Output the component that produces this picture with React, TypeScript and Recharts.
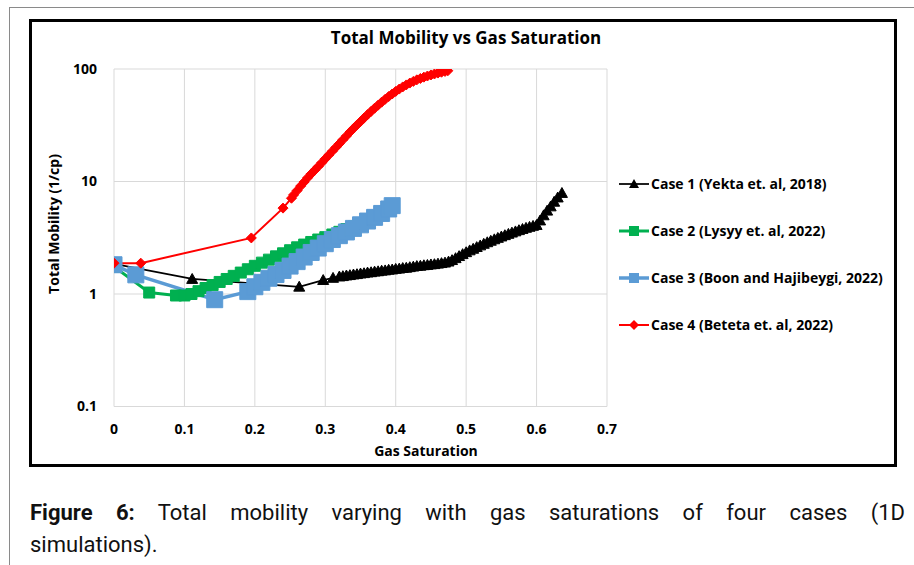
import { LineChart, Line, XAxis, YAxis, CartesianGrid } from 'recharts';

// gas saturation (x) vs total mobility in 1/cp (y)
const case1 = [
  { sg: 0, mob: 1.85 }, { sg: 0.111, mob: 1.36 }, { sg: 0.263, mob: 1.16 }, { sg: 0.297, mob: 1.33 },
  { sg: 0.311, mob: 1.39 }, { sg: 0.32, mob: 1.43 }, { sg: 0.325, mob: 1.44 }, { sg: 0.33, mob: 1.46 },
  { sg: 0.335, mob: 1.47 }, { sg: 0.34, mob: 1.49 }, { sg: 0.345, mob: 1.5 }, { sg: 0.35, mob: 1.52 },
  { sg: 0.355, mob: 1.53 }, { sg: 0.36, mob: 1.55 }, { sg: 0.365, mob: 1.56 }, { sg: 0.37, mob: 1.58 },
  { sg: 0.375, mob: 1.59 }, { sg: 0.38, mob: 1.61 }, { sg: 0.385, mob: 1.62 }, { sg: 0.39, mob: 1.64 },
  { sg: 0.395, mob: 1.65 }, { sg: 0.4, mob: 1.67 }, { sg: 0.405, mob: 1.68 }, { sg: 0.41, mob: 1.7 },
  { sg: 0.415, mob: 1.71 }, { sg: 0.42, mob: 1.73 }, { sg: 0.425, mob: 1.75 }, { sg: 0.43, mob: 1.77 },
  { sg: 0.435, mob: 1.78 }, { sg: 0.44, mob: 1.8 }, { sg: 0.445, mob: 1.81 }, { sg: 0.45, mob: 1.83 },
  { sg: 0.455, mob: 1.84 }, { sg: 0.46, mob: 1.86 }, { sg: 0.465, mob: 1.88 }, { sg: 0.47, mob: 1.9 },
  { sg: 0.475, mob: 1.94 }, { sg: 0.48, mob: 2.0 }, { sg: 0.485, mob: 2.08 }, { sg: 0.49, mob: 2.17 },
  { sg: 0.495, mob: 2.26 }, { sg: 0.5, mob: 2.35 }, { sg: 0.505, mob: 2.44 }, { sg: 0.51, mob: 2.52 },
  { sg: 0.515, mob: 2.61 }, { sg: 0.52, mob: 2.7 }, { sg: 0.525, mob: 2.79 }, { sg: 0.53, mob: 2.88 },
  { sg: 0.535, mob: 2.97 }, { sg: 0.54, mob: 3.06 }, { sg: 0.545, mob: 3.15 }, { sg: 0.55, mob: 3.24 },
  { sg: 0.555, mob: 3.33 }, { sg: 0.56, mob: 3.42 }, { sg: 0.565, mob: 3.51 }, { sg: 0.57, mob: 3.6 },
  { sg: 0.575, mob: 3.69 }, { sg: 0.58, mob: 3.78 }, { sg: 0.585, mob: 3.87 }, { sg: 0.59, mob: 3.95 },
  { sg: 0.595, mob: 4.03 }, { sg: 0.6, mob: 4.1 }, { sg: 0.605, mob: 4.5 }, { sg: 0.61, mob: 5.0 },
  { sg: 0.615, mob: 5.5 }, { sg: 0.62, mob: 6.0 }, { sg: 0.625, mob: 6.6 }, { sg: 0.63, mob: 7.2 },
  { sg: 0.636, mob: 7.9 },
];

const case2 = [
  { sg: 0, mob: 1.75 }, { sg: 0.05, mob: 1.03 }, { sg: 0.088, mob: 0.97 }, { sg: 0.1, mob: 0.97 },
  { sg: 0.11, mob: 1.0 }, { sg: 0.12, mob: 1.06 }, { sg: 0.13, mob: 1.13 }, { sg: 0.14, mob: 1.2 },
  { sg: 0.15, mob: 1.28 }, { sg: 0.16, mob: 1.36 }, { sg: 0.17, mob: 1.45 }, { sg: 0.18, mob: 1.55 },
  { sg: 0.19, mob: 1.66 }, { sg: 0.2, mob: 1.78 }, { sg: 0.21, mob: 1.9 }, { sg: 0.22, mob: 2.02 },
  { sg: 0.23, mob: 2.16 }, { sg: 0.24, mob: 2.3 }, { sg: 0.25, mob: 2.45 }, { sg: 0.26, mob: 2.6 },
  { sg: 0.27, mob: 2.75 }, { sg: 0.28, mob: 2.9 }, { sg: 0.29, mob: 3.05 }, { sg: 0.3, mob: 3.2 },
  { sg: 0.31, mob: 3.38 }, { sg: 0.32, mob: 3.57 }, { sg: 0.33, mob: 3.78 }, { sg: 0.34, mob: 3.98 },
  { sg: 0.35, mob: 4.2 },
];

const case3 = [
  { sg: 0, mob: 1.82 }, { sg: 0.031, mob: 1.48 }, { sg: 0.143, mob: 0.89 }, { sg: 0.19, mob: 1.05 },
  { sg: 0.2, mob: 1.16 }, { sg: 0.21, mob: 1.27 }, { sg: 0.22, mob: 1.38 }, { sg: 0.23, mob: 1.49 },
  { sg: 0.24, mob: 1.62 }, { sg: 0.25, mob: 1.77 }, { sg: 0.26, mob: 1.94 }, { sg: 0.27, mob: 2.13 },
  { sg: 0.28, mob: 2.34 }, { sg: 0.29, mob: 2.56 }, { sg: 0.3, mob: 2.8 }, { sg: 0.31, mob: 3.05 },
  { sg: 0.32, mob: 3.3 }, { sg: 0.33, mob: 3.56 }, { sg: 0.34, mob: 3.83 }, { sg: 0.35, mob: 4.12 },
  { sg: 0.36, mob: 4.45 }, { sg: 0.37, mob: 4.8 }, { sg: 0.38, mob: 5.2 }, { sg: 0.39, mob: 5.7 },
  { sg: 0.395, mob: 6.1 },
];

const case4 = [
  { sg: 0, mob: 1.88 }, { sg: 0.038, mob: 1.88 }, { sg: 0.195, mob: 3.15 }, { sg: 0.24, mob: 5.8 },
  { sg: 0.252, mob: 7.1 }, { sg: 0.255, mob: 7.6 }, { sg: 0.26, mob: 8.3 }, { sg: 0.265, mob: 9.1 },
  { sg: 0.27, mob: 9.9 }, { sg: 0.275, mob: 10.8 }, { sg: 0.28, mob: 11.7 }, { sg: 0.285, mob: 12.6 },
  { sg: 0.29, mob: 13.6 }, { sg: 0.295, mob: 14.7 }, { sg: 0.3, mob: 15.9 }, { sg: 0.305, mob: 17.2 },
  { sg: 0.31, mob: 18.6 }, { sg: 0.315, mob: 20.1 }, { sg: 0.32, mob: 21.7 }, { sg: 0.325, mob: 23.5 },
  { sg: 0.33, mob: 25.4 }, { sg: 0.335, mob: 27.5 }, { sg: 0.34, mob: 29.6 }, { sg: 0.345, mob: 31.8 },
  { sg: 0.35, mob: 34.1 }, { sg: 0.355, mob: 36.6 }, { sg: 0.36, mob: 39.3 }, { sg: 0.365, mob: 42.0 },
  { sg: 0.37, mob: 44.8 }, { sg: 0.375, mob: 47.7 }, { sg: 0.38, mob: 50.7 }, { sg: 0.385, mob: 53.8 },
  { sg: 0.39, mob: 56.9 }, { sg: 0.395, mob: 60.0 }, { sg: 0.4, mob: 63.2 }, { sg: 0.405, mob: 66.3 },
  { sg: 0.41, mob: 69.3 }, { sg: 0.415, mob: 72.2 }, { sg: 0.42, mob: 75.0 }, { sg: 0.425, mob: 77.6 },
  { sg: 0.43, mob: 80.1 }, { sg: 0.435, mob: 82.4 }, { sg: 0.44, mob: 84.6 }, { sg: 0.445, mob: 86.6 },
  { sg: 0.45, mob: 88.5 }, { sg: 0.455, mob: 90.3 }, { sg: 0.46, mob: 92.0 }, { sg: 0.465, mob: 93.6 },
  { sg: 0.47, mob: 95.2 }, { sg: 0.474, mob: 96.5 },
];

const seriesNames = [
  'Case 1 (Yekta et. al, 2018)',
  'Case 2 (Lysyy et. al, 2022)',
  'Case 3 (Boon and Hajibeygi, 2022)',
  'Case 4 (Beteta et. al, 2022)',
];

const xTicks = [0, 0.1, 0.2, 0.3, 0.4, 0.5, 0.6, 0.7];
const yTicks = [0.1, 1, 10, 100];

const FONT = "'Open Sans', sans-serif";

// marker shapes, Excel style
function markerPath(kind: string, cx: number, cy: number, s: number) {
  const h = s / 2;
  if (kind === 'triangle') return `M${cx},${cy - h}L${cx + h},${cy + h * 0.8}L${cx - h},${cy + h * 0.8}Z`;
  if (kind === 'diamond') return `M${cx},${cy - h}L${cx + h},${cy}L${cx},${cy + h}L${cx - h},${cy}Z`;
  return `M${cx - h},${cy - h}h${s}v${s}h${-s}Z`;
}

const series = [
  { data: case1, color: '#000000', width: 1.75, kind: 'triangle', size: 11 },
  { data: case2, color: '#00b050', width: 3, kind: 'square', size: 11 },
  { data: case3, color: '#5b9bd5', width: 3.5, kind: 'square', size: 16 },
  { data: case4, color: '#ff0000', width: 2, kind: 'diamond', size: 10 },
];

const makeDot = (kind: string, color: string, size: number) => (p: any) => {
  const key = `${kind}-${color}-${p.index}`;
  if (p.cx == null || p.cy == null) return <g key={key} />;
  return <path key={key} d={markerPath(kind, p.cx, p.cy, size)} fill={color} stroke={color} strokeWidth={1} strokeLinejoin="round" />;
};

const tickStyle = { fontSize: 14, fontWeight: 700, fill: '#000', fontFamily: FONT };

function LegendIcon({ kind, color, width, size }: any) {
  return (
    <svg width={30} height={16} style={{ display: 'block' }}>
      <line x1={0} y1={8} x2={30} y2={8} stroke={color} strokeWidth={width} />
      <path d={markerPath(kind, 15, 8, size)} fill={color} />
    </svg>
  );
}

export default function App() {
  return (
    <div style={{ position: 'absolute', left: 0, top: 0, width: 914, height: 565, background: '#fff', overflow: 'hidden' }}>
      {/* page frame */}
      <div style={{ position: 'absolute', left: 9, top: 7, width: 910, height: 570, borderLeft: '1px solid #8a8a8a', borderTop: '1px solid #8a8a8a' }} />
      <div style={{ position: 'absolute', left: 29, top: 19, width: 868, height: 448, border: '3px solid #000', boxSizing: 'border-box' }} />

      <div style={{ position: 'absolute', left: 0, top: 0 }}>
        <LineChart width={914} height={565} margin={{ top: 69, right: 307, bottom: 128.5, left: 54 }}>
          <CartesianGrid stroke="#d9d9d9" strokeWidth={1} />
          <XAxis
            dataKey="sg"
            type="number"
            domain={[0, 0.7]}
            ticks={xTicks}
            allowDataOverflow
            axisLine={false}
            tickLine={false}
            tickSize={0}
            tickMargin={18}
            height={30}
            tick={tickStyle}
            tickFormatter={(v: number) => String(v)}
          />
          <YAxis
            type="number"
            scale="log"
            domain={[0.1, 100]}
            ticks={yTicks}
            allowDataOverflow
            axisLine={false}
            tickLine={false}
            tickSize={0}
            tickMargin={17}
            width={60}
            tick={tickStyle}
            tickFormatter={(v: number) => String(v)}
          />
          {series.map((s, i) => (
            <Line
              key={seriesNames[i]}
              data={s.data}
              dataKey="mob"
              type="linear"
              stroke={s.color}
              strokeWidth={s.width}
              dot={makeDot(s.kind, s.color, s.size)}
              activeDot={false}
              isAnimationActive={false}
            />
          ))}
        </LineChart>
      </div>

      {/* chart title and axis titles */}
      <div style={{ position: 'absolute', left: 266, width: 400, top: 27, textAlign: 'center', fontFamily: FONT, fontWeight: 700, fontSize: 17, lineHeight: '22px' }}>
        Total Mobility vs Gas Saturation
      </div>
      <div style={{ position: 'absolute', left: 326, width: 200, top: 441, textAlign: 'center', fontFamily: FONT, fontWeight: 700, fontSize: 14, lineHeight: '20px' }}>
        Gas Saturation
      </div>
      <div style={{ position: 'absolute', left: 54, top: 224, width: 0, height: 0 }}>
        <div style={{ position: 'absolute', left: -100, top: -10, width: 200, textAlign: 'center', transform: 'rotate(-90deg)', fontFamily: FONT, fontWeight: 700, fontSize: 14, lineHeight: '20px', whiteSpace: 'nowrap' }}>
          Total Mobility (1/cp)
        </div>
      </div>

      {/* legend */}
      <div style={{ position: 'absolute', left: 619, top: 160 }}>
        {series.map((s, i) => (
          <div key={seriesNames[i]} style={{ display: 'flex', alignItems: 'center', height: 47 }}>
            <LegendIcon kind={s.kind} color={s.color} width={s.width} size={Math.min(s.size, 10)} />
            <span style={{ marginLeft: 2, fontFamily: FONT, fontWeight: 700, fontSize: 14, whiteSpace: 'nowrap' }}>{seriesNames[i]}</span>
          </div>
        ))}
      </div>

      {/* figure caption */}
      <div style={{ position: 'absolute', left: 30, top: 496, width: 875, fontFamily: 'Roboto, sans-serif', fontSize: 22, lineHeight: '33px', textAlign: 'justify', textAlignLast: 'justify', color: '#111' }}>
        <b>Figure 6:</b> Total mobility varying with gas saturations of four cases (1D
      </div>
      <div style={{ position: 'absolute', left: 30, top: 528, fontFamily: 'Roboto, sans-serif', fontSize: 22, lineHeight: '33px', color: '#111' }}>
        simulations).
      </div>
    </div>
  );
}
